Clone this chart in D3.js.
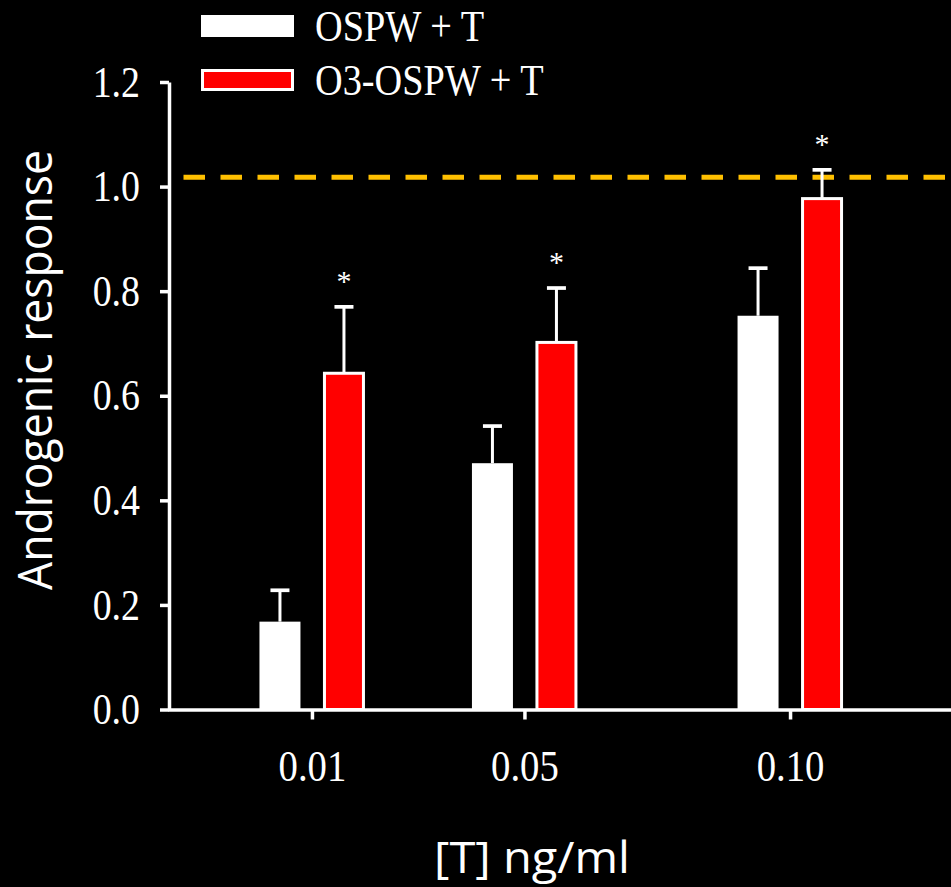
<!DOCTYPE html>
<html>
<head>
<meta charset="utf-8">
<script src="https://cdn.jsdelivr.net/npm/d3@7/dist/d3.min.js"></script>
<style>
  html, body { margin: 0; padding: 0; background: #000; }
  svg { display: block; }
</style>
</head>
<body>
<svg id="chart" width="951" height="887"></svg>
<script>
// ---- data ----
const doses = [0.01, 0.05, 0.10];
const seriesNames = ["OSPW + T", "O3-OSPW + T"];
const ospwMeans = [0.168, 0.471, 0.753];
const ospwErr = [0.060, 0.071, 0.091];
const o3Means = [0.643, 0.702, 0.977];
const o3Err = [0.127, 0.104, 0.055];
const o3Significant = [true, true, true];
const yTicks = [0.0, 0.2, 0.4, 0.6, 0.8, 1.0, 1.2];
const controlLevel = 1.018;
const xTitle = "[T] ng/ml";
const yTitle = "Androgenic response";

const seriesColors = ["#ffffff", "#ff0000"];

const svg = d3.select("#chart");
svg.append("rect").attr("width", 951).attr("height", 887).attr("fill", "#000");

const x = d3.scaleLinear().domain([-0.0171, 0.1303]).range([168, 951]);
const y = d3.scaleLinear().domain([0, 1.2]).range([709.5, 82]);
const offset = d3.scalePoint().domain(seriesNames).range([-32, 32]);
const barW = 41;

const serif = "'Liberation Serif', 'Times New Roman', serif";
const sans = "'Open Sans', 'Noto Sans', sans-serif";

function squeeze(sel, f) {
  sel.each(function () {
    const L = this.getComputedTextLength();
    d3.select(this).attr("textLength", L * f).attr("lengthAdjust", "spacingAndGlyphs");
  });
}

// dashed control line
svg.append("line")
  .attr("x1", x.range()[0]).attr("x2", x.range()[1])
  .attr("y1", y(controlLevel)).attr("y2", y(controlLevel))
  .attr("stroke", "#ffc000").attr("stroke-width", 5)
  .attr("stroke-dasharray", "21.5,15.5").attr("stroke-dashoffset", 21.5);

// bars
const table = [];
doses.forEach((d, i) => {
  table.push({ dose: d, s: seriesNames[0], v: ospwMeans[i], e: ospwErr[i], c: seriesColors[0], sig: false });
  table.push({ dose: d, s: seriesNames[1], v: o3Means[i], e: o3Err[i], c: seriesColors[1], sig: o3Significant[i] });
});

const g = svg.append("g");
// error bars (upward only)
g.selectAll(".err").data(table).join("g").attr("class", "err").each(function (d) {
  const cx = x(d.dose) + offset(d.s);
  const sel = d3.select(this);
  sel.append("line").attr("x1", cx).attr("x2", cx).attr("y1", y(d.v)).attr("y2", y(d.v + d.e))
    .attr("stroke", "#fff").attr("stroke-width", 3);
  sel.append("line").attr("x1", cx - 9.5).attr("x2", cx + 9.5).attr("y1", y(d.v + d.e)).attr("y2", y(d.v + d.e))
    .attr("stroke", "#fff").attr("stroke-width", 3.7);
});

g.selectAll(".bar").data(table).join("rect").attr("class", "bar")
  .attr("x", d => x(d.dose) + offset(d.s) - (d.s === seriesNames[1] ? 19.5 : barW / 2))
  .attr("width", d => d.s === seriesNames[1] ? 39 : barW)
  .attr("y", d => y(d.v))
  .attr("height", d => y(0) - y(d.v))
  .attr("fill", d => d.c)
  .attr("stroke", d => d.s === seriesNames[1] ? "#fff" : "none")
  .attr("stroke-width", 3);

// significance asterisks
g.selectAll(".sig").data(table.filter(d => d.sig)).join("text").attr("class", "sig")
  .attr("x", d => x(d.dose) + offset(d.s))
  .attr("y", d => y(d.v + d.e) - 30 + 14)
  .attr("text-anchor", "middle")
  .attr("fill", "#fff").attr("font-family", serif).attr("font-size", 30)
  .text("*");

// axes
const yAxis = d3.axisLeft(y).tickValues(yTicks).tickFormat(d3.format(".1f"))
  .tickSize(9).tickSizeOuter(0).tickPadding(20);
const yg = svg.append("g").attr("transform", `translate(${x.range()[0] + 1},0)`).call(yAxis);
yg.select(".domain").attr("stroke", "#fff").attr("stroke-width", 3.5);
yg.selectAll(".tick line").attr("stroke", "#fff").attr("stroke-width", 3.5);
yg.selectAll(".tick text").attr("fill", "#fff").attr("font-family", serif).attr("font-size", 44).call(squeeze, 0.86);

const xAxis = d3.axisBottom(x).tickValues(doses).tickFormat(d3.format(".2f"))
  .tickSize(10).tickSizeOuter(0).tickPadding(30);
const xg = svg.append("g").attr("transform", `translate(0,${y(0)})`).call(xAxis);
xg.select(".domain").attr("stroke", "#fff").attr("stroke-width", 3.5);
xg.selectAll(".tick line").attr("stroke", "#fff").attr("stroke-width", 3.5);
xg.selectAll(".tick text").attr("fill", "#fff").attr("font-family", serif).attr("font-size", 44).call(squeeze, 0.88);

// titles
svg.append("text").attr("x", 532).attr("y", 873).attr("text-anchor", "middle")
  .attr("fill", "#fff").attr("font-family", sans).attr("font-size", 44)
  .attr("textLength", 196).attr("lengthAdjust", "spacingAndGlyphs")
  .text(xTitle);

svg.append("text").attr("transform", "translate(52,370) rotate(-90)").attr("text-anchor", "middle")
  .attr("fill", "#fff").attr("font-family", sans).attr("font-size", 48)
  .attr("textLength", 440).attr("lengthAdjust", "spacingAndGlyphs")
  .text(yTitle);

// legend
const legend = svg.append("g");
const legY = [26, 80];
seriesNames.forEach((name, i) => {
  legend.append("rect").attr("x", i === 1 ? 202.5 : 201).attr("y", legY[i] - (i === 1 ? 9.5 : 11))
    .attr("width", i === 1 ? 90 : 93).attr("height", i === 1 ? 19 : 22)
    .attr("fill", seriesColors[i])
    .attr("stroke", i === 1 ? "#fff" : "none").attr("stroke-width", 3);
  legend.append("text").attr("x", 315).attr("y", legY[i] + 15)
    .attr("fill", "#fff").attr("font-family", serif).attr("font-size", 44)
    .text(name).call(squeeze, 0.87);
});
</script>
</body>
</html>
